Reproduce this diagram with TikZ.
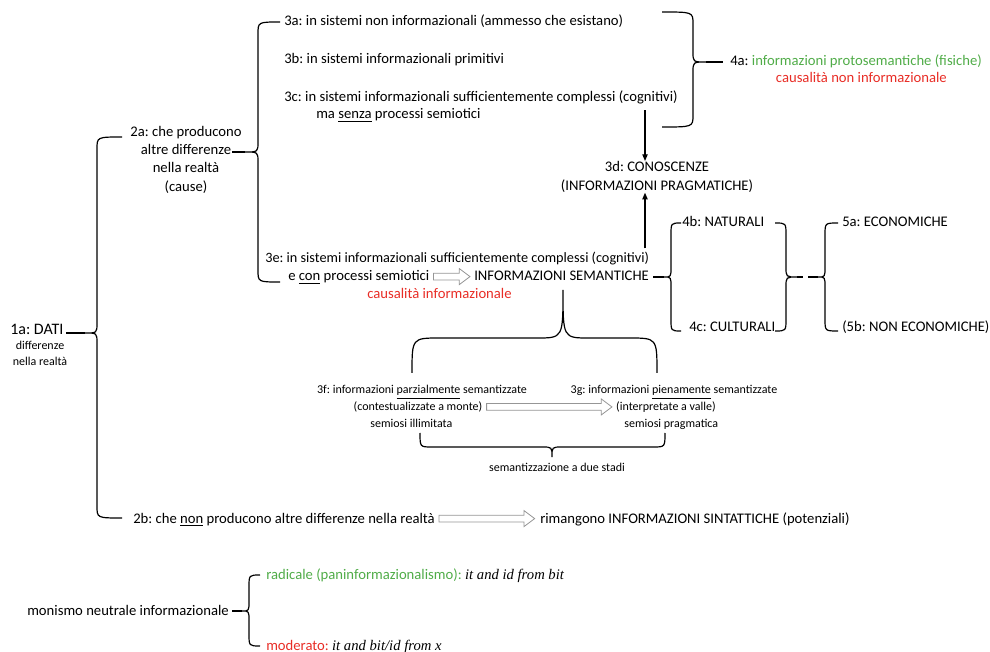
\documentclass[tikz,border=0pt]{standalone}
\usepackage{fontspec}
\setmainfont{Carlito}
\newfontfamily\timesfont{Liberation Serif}
\frenchspacing
\usetikzlibrary{arrows.meta,calc,positioning}
\definecolor{verde}{RGB}{80,172,72}
\definecolor{rosso}{RGB}{232,45,38}
\definecolor{grigio}{RGB}{150,150,150}

% vertical brace: end x, spine x, tip x, top y, tip y, bottom y, tip name
\newcommand{\bracev}[7]{%
  \draw[brc] (#1,#4) .. controls (#2,#4) .. (#2,#4+12) -- (#2,#5-10)
    .. controls (#2,#5) .. (#3,#5) .. controls (#2,#5) .. (#2,#5+10)
    -- (#2,#6-12) .. controls (#2,#6) .. (#1,#6);
  \coordinate (#7) at (#3,#5);}
% horizontal brace: end y, spine y, tip y, left x, tip x, right x, end radius, tip radius, tip name
\newcommand{\braceh}[9]{%
  \draw[brc] (#4,#1) .. controls (#4,#2) .. (#4+#7,#2) -- (#5-#8,#2)
    .. controls (#5,#2) .. (#5,#3) .. controls (#5,#2) .. (#5+#8,#2)
    -- (#6-#7,#2) .. controls (#6,#2) .. (#6,#1);
  \coordinate (#9) at (#5,#3);}
% hollow block arrow
\newcommand{\hollowarr}[2]{%
  \draw[hollow] let \p1=(#1), \p2=(#2) in
    (\x1,\y1+2.5pt) -- (\x2-8pt,\y1+2.5pt) -- (\x2-8pt,\y1+6pt) -- (\x2,\y1)
    -- (\x2-8pt,\y1-6pt) -- (\x2-8pt,\y1-2.5pt) -- (\x1,\y1-2.5pt) -- cycle;}

\begin{document}
\begin{tikzpicture}[x=0.75pt,y=-0.75pt,
    brc/.style={line width=0.9pt},
    arr/.style={line width=0.8pt,-{Triangle[length=5pt,width=4pt]}},
    hollow/.style={draw=grigio,fill=white,line width=0.6pt}]
  \tikzstyle{txt}=[inner sep=0pt,font=\fontsize{11}{13.5}\selectfont]
  \tikzstyle{small}=[inner sep=0pt,font=\fontsize{9}{12}\selectfont]
  \useasboundingbox (0,0) rectangle (990,652);

  % text
  \node[txt,anchor=base west,font=\fontsize{12}{14}\selectfont] (n1a) at (10,335) {1a: DATI};
  \node[small,align=center,anchor=north] (n1b) at (40,341) {differenze\\nella realtà};
  \node[txt,align=center,anchor=north,font=\fontsize{11}{13.7}\selectfont] (n2a) at (186,126)
    {2a: che producono\\altre differenze\\nella realtà\\(cause)};
  \node[txt,anchor=base west] (n3a) at (284,26) {3a: in sistemi non informazionali (ammesso che esistano)};
  \node[txt,anchor=base west] (n3b) at (284,64) {3b: in sistemi informazionali primitivi};
  \node[txt,anchor=base west] (n3c) at (284,102) {3c: in sistemi informazionali sufficientemente complessi (cognitivi)};
  \node[txt] (n3c2) [below=12.75pt of n3c.base west, anchor=base west, xshift=24pt] {ma \underline{senza} processi semiotici};
  \node[txt,align=center,anchor=north,font=\fontsize{11}{14.2}\selectfont] (n3d) at (657,161)
    {3d: CONOSCENZE\\(INFORMAZIONI PRAGMATICHE)};
  \node[txt,anchor=base west,font=\fontsize{10.7}{13}\selectfont] (n3e) at (265,263) {3e: in sistemi informazionali sufficientemente complessi (cognitivi)};
  \node[txt,anchor=base west] (n3e2) at (288,281) {e \underline{con} processi semiotici};
  \node[txt,anchor=base west] (nsem) at (474,281) {INFORMAZIONI SEMANTICHE};
  \node[txt,anchor=base west,text=rosso] (ncaus) at (367,299) {causalità informazionale};
  \node[txt,anchor=base west] (n4a) at (730,66) {4a: \textcolor{verde}{informazioni protosemantiche (fisiche)}};
  \node[txt,text=rosso] (n4a2) [below=12.75pt of n4a.base, anchor=base, xshift=4pt] {causalità non informazionale};
  \node[txt,anchor=base west] (n4b) at (682,227) {4b: NATURALI};
  \node[txt,anchor=base west] (n4c) at (689,332) {4c: CULTURALI};
  \node[txt,anchor=base west] (n5a) at (842,227) {5a: ECONOMICHE};
  \node[txt,anchor=base west] (n5b) at (842,332) {(5b: NON ECONOMICHE)};
  \node[small,anchor=base] (n3f1) at (422,394) {3f: informazioni \underline{parzialmente} semantizzate};
  \node[small] (n3f2) [below=12.4pt of n3f1.base, anchor=base, xshift=-3pt] {(contestualizzate a monte)};
  \node[small] (n3f3) [below=12.4pt of n3f2.base, anchor=base, xshift=-5pt] {semiosi illimitata};
  \node[small,anchor=base] (n3g1) at (674,394) {3g: informazioni \underline{pienamente} semantizzate};
  \node[small] (n3g2) [below=12.4pt of n3g1.base, anchor=base, xshift=-6pt] {(interpretate a valle)};
  \node[small] (n3g3) [below=12.4pt of n3g2.base, anchor=base, xshift=4pt] {semiosi pragmatica};
  \node[small,anchor=base] (nstadi) at (557,472) {semantizzazione a due stadi};
  \node[txt,anchor=base west] (n2b) at (133,523) {2b: che \underline{non} producono altre differenze nella realtà};
  \node[txt,anchor=base west] (nsint) at (540,523) {rimangono INFORMAZIONI SINTATTICHE (potenziali)};
  \node[txt,anchor=base west] (nmon) at (27,615) {monismo neutrale informazionale};
  \node[txt,anchor=base west] (nrad) at (266,579)
    {\textcolor{verde}{radicale (paninformazionalismo):} {\timesfont\itshape it and id from bit}};
  \node[txt,anchor=base west] (nmod) at (266,650)
    {\textcolor{rosso}{moderato:} {\timesfont\itshape it and bit/id from x}};

  % braces
  \bracev{122}{97}{85}{137}{333}{518}{t1}
  \draw[brc,shorten >=2pt] (t1) -- (t1 -| n1a.east);
  \bracev{280}{258}{245}{22}{152}{282}{t2}
  \draw[brc] (t2) -- +(-13,0);
  \bracev{662}{693}{706}{12}{62}{127}{t3}
  \draw[brc,shorten >=5pt] (t3) -- (t3 -| n4a.west);
  \bracev{681}{671}{664}{223}{277}{331}{t4}
  \draw[brc,shorten >=3pt] (t4) -- (t4 -| nsem.east);
  \bracev{775}{786}{797}{223}{277}{331}{t5}
  \bracev{838}{825}{818}{223}{277}{331}{t6}
  \draw[brc] (t5) -- +(6,0);
  \draw[brc] (t6) -- +(-10,0);
  \braceh{373}{338}{290}{412}{563}{657}{28}{26}{t7}
  \braceh{433}{447}{457}{420}{552}{665}{12}{10}{t8}
  \bracev{260}{249}{242}{575}{611}{646}{t9}
  \draw[brc,shorten >=2pt] (t9) -- (t9 -| nmon.east);

  % arrows
  \coordinate (k1) at ([xshift=-9pt]n3d.north);
  \draw[arr,shorten <=4pt] (k1 |- n3c.south) -- (k1);
  \coordinate (k2) at ([xshift=-9pt]n3d.south);
  \draw[arr,shorten <=3pt] (k2 |- n3e.north) -- (k2);
  \hollowarr{[shift={(3pt,3.3pt)}]n3e2.base east}{[shift={(-3pt,3.3pt)}]nsem.base west}
  \hollowarr{[shift={(3pt,2.7pt)}]n3f2.base east}{[shift={(-3pt,2.7pt)}]n3g2.base west}
  \hollowarr{[shift={(3pt,3.3pt)}]n2b.base east}{[shift={(-4pt,3.3pt)}]nsint.base west}
\end{tikzpicture}
\end{document}
